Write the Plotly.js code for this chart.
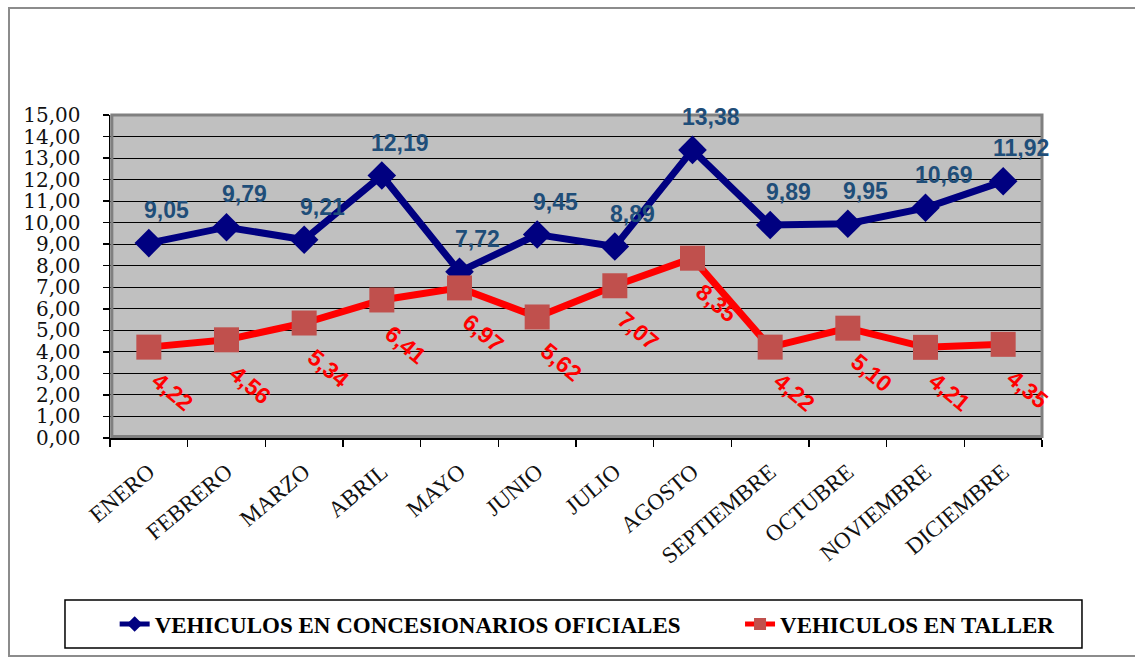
<!DOCTYPE html>
<html><head><meta charset="utf-8">
<script src="https://cdn.plot.ly/plotly-3.0.1.min.js"></script>
<style>
html,body{margin:0;padding:0;background:#fff;overflow:hidden;width:1135px;height:659px;}
#frame{position:absolute;left:8px;top:7px;width:1200px;height:646px;border-top:2px solid #8c8c8c;border-left:2px solid #8c8c8c;border-bottom:2px solid #8c8c8c;}
#chart{position:absolute;left:0;top:0;width:1135px;height:659px;}
</style></head><body>
<div id="frame"></div>
<div id="chart"></div>
<script>
const months = ["ENERO","FEBRERO","MARZO","ABRIL","MAYO","JUNIO","JULIO","AGOSTO","SEPTIEMBRE","OCTUBRE","NOVIEMBRE","DICIEMBRE"];
const concesionarios = [9.05, 9.79, 9.21, 12.19, 7.72, 9.45, 8.89, 13.38, 9.89, 9.95, 10.69, 11.92];
const taller = [4.22, 4.56, 5.34, 6.41, 6.97, 5.62, 7.07, 8.35, 4.22, 5.10, 4.21, 4.35];
const seriesNames = ["VEHICULOS EN CONCESIONARIOS OFICIALES", "VEHICULOS EN TALLER"];

const fmt = v => v.toFixed(2).replace('.', ',');

const traces = [
  {x: months, y: concesionarios, name: seriesNames[0], type: 'scatter', mode: 'lines+markers', legend: 'legend',
   line: {color: '#000080', width: 7}, marker: {symbol: 'diamond', size: 22, color: '#000080'}},
  {x: months, y: taller, name: seriesNames[1], type: 'scatter', mode: 'lines+markers', legend: 'legend2',
   line: {color: '#FF0000', width: 7}, marker: {symbol: 'square', size: 25, color: '#C0504D', line: {width: 0}}}
];

const annotations = [];
months.forEach((m, i) => {
  annotations.push({x: m, y: concesionarios[i], text: fmt(concesionarios[i]), showarrow: false,
    xshift: 18, yshift: 33, font: {family: 'Liberation Sans, Arial', size: 23, color: '#1F4E79', weight: 'bold'}});
  annotations.push({x: m, y: taller[i], text: fmt(taller[i]), showarrow: false, textangle: 40,
    xshift: 24, yshift: -45, font: {family: 'Liberation Sans, Arial', size: 23, color: '#FF0000', weight: 'bold'}});
});

const legendFont = {family: 'Liberation Serif, Times New Roman', size: 23, color: '#000', weight: 'bold'};

const layout = {
  width: 1135, height: 659,
  margin: {l: 110, r: 93, t: 115, b: 221, autoexpand: false},
  paper_bgcolor: 'rgba(0,0,0,0)',
  plot_bgcolor: '#C0C0C0',
  separators: ', ',
  showlegend: true,
  xaxis: {type: 'category', range: [-0.5, 11.5], autorange: false, showgrid: false, showline: true, linecolor: '#000', linewidth: 1.5,
    ticks: 'outside', tickson: 'boundaries', ticklen: 7, tickcolor: '#000', tickwidth: 1.5,
    tickangle: -40, ticklabelstandoff: 10,
    tickfont: {family: 'Liberation Serif, Times New Roman', size: 23, color: '#111'}, fixedrange: true},
  yaxis: {range: [0, 15], autorange: false, dtick: 1, tickformat: '.2f', showgrid: true, gridcolor: '#000', gridwidth: 1,
    zeroline: false, showline: true, linecolor: '#000', linewidth: 1.5,
    ticks: 'outside', ticklen: 6, tickcolor: '#000', tickwidth: 1.5, ticklabelstandoff: 18,
    tickfont: {family: 'DejaVu Serif, serif', size: 20, color: '#111'}, fixedrange: true},
  legend: {orientation: 'h', x: 0.005, xanchor: 'left', y: -0.576, yanchor: 'middle', itemsizing: 'constant',
    bgcolor: 'rgba(0,0,0,0)', borderwidth: 0, font: legendFont},
  legend2: {orientation: 'h', x: 0.676, xanchor: 'left', y: -0.576, yanchor: 'middle', itemsizing: 'constant',
    bgcolor: 'rgba(0,0,0,0)', borderwidth: 0, font: legendFont},
  shapes: [
    {type: 'rect', xref: 'paper', yref: 'paper', x0: 0.002, x1: 1, y0: 0.005, y1: 1,
     line: {color: '#808080', width: 3}, layer: 'above'},
    {type: 'rect', xref: 'paper', yref: 'paper', x0: -0.0483, x1: 1.0429, y0: -0.650, y1: -0.5015,
     line: {color: '#000', width: 1.5}, layer: 'above'}
  ],
  annotations: annotations
};

Plotly.newPlot('chart', traces, layout, {staticPlot: true, displayModeBar: false});
</script>
</body></html>
